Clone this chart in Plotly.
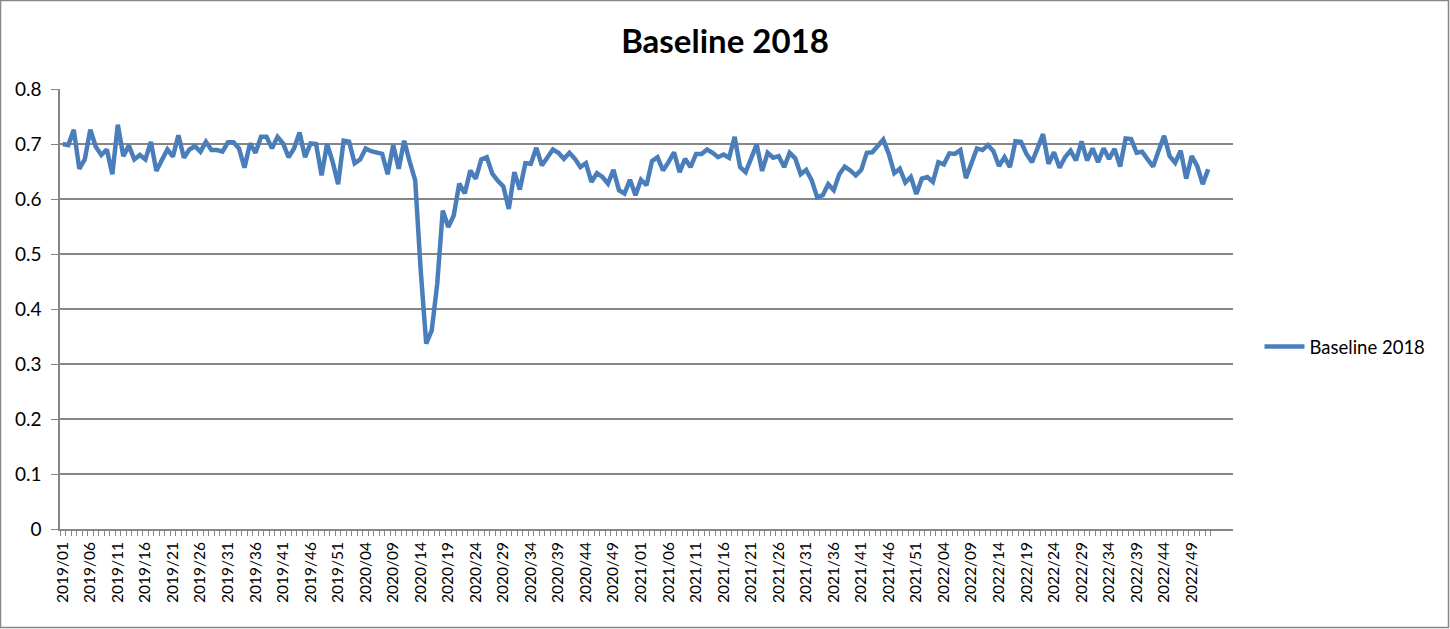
import plotly.graph_objects as go

# ---- data ----
YEARS = [2019, 2020, 2021, 2022]
WEEKS_PER_YEAR = [52, 53, 52, 52]
WEEKS = [f"{y}/{w:02d}" for y, n in zip(YEARS, WEEKS_PER_YEAR) for w in range(1, n + 1)]

BASELINE_2018 = [
    0.700, 0.698, 0.726, 0.655, 0.672, 0.726, 0.695, 0.680, 0.690, 0.645,
    0.735, 0.678, 0.697, 0.672, 0.680, 0.672, 0.704, 0.651, 0.671, 0.690,
    0.677, 0.716, 0.675, 0.690, 0.696, 0.686, 0.704, 0.689, 0.689, 0.686,
    0.703, 0.703, 0.692, 0.657, 0.701, 0.684, 0.713, 0.713, 0.692, 0.713,
    0.701, 0.676, 0.692, 0.721, 0.676, 0.701, 0.700, 0.643, 0.700, 0.668,
    0.627, 0.706, 0.704, 0.665, 0.672, 0.692, 0.687, 0.684, 0.682, 0.645,
    0.698, 0.655, 0.706, 0.668, 0.634, 0.470, 0.337, 0.361, 0.446, 0.579,
    0.549, 0.570, 0.628, 0.610, 0.652, 0.637, 0.672, 0.676, 0.646, 0.633,
    0.623, 0.582, 0.649, 0.617, 0.665, 0.664, 0.693, 0.661, 0.676, 0.690,
    0.684, 0.673, 0.684, 0.673, 0.658, 0.665, 0.631, 0.647, 0.640, 0.628,
    0.653, 0.616, 0.610, 0.635, 0.607, 0.635, 0.625, 0.669, 0.676, 0.652,
    0.667, 0.685, 0.649, 0.673, 0.658, 0.682, 0.682, 0.690, 0.684, 0.676,
    0.681, 0.675, 0.713, 0.658, 0.649, 0.672, 0.699, 0.651, 0.684, 0.675,
    0.678, 0.658, 0.684, 0.674, 0.645, 0.653, 0.634, 0.603, 0.607, 0.627,
    0.616, 0.645, 0.659, 0.652, 0.643, 0.653, 0.684, 0.685, 0.696, 0.708,
    0.682, 0.647, 0.655, 0.630, 0.640, 0.609, 0.637, 0.640, 0.631, 0.667,
    0.663, 0.683, 0.682, 0.689, 0.638, 0.665, 0.692, 0.689, 0.698, 0.687,
    0.660, 0.676, 0.658, 0.705, 0.704, 0.682, 0.667, 0.692, 0.718, 0.664,
    0.685, 0.657, 0.676, 0.688, 0.670, 0.705, 0.670, 0.692, 0.667, 0.692,
    0.673, 0.691, 0.659, 0.710, 0.709, 0.684, 0.686, 0.672, 0.659, 0.688,
    0.715, 0.678, 0.666, 0.688, 0.637, 0.678, 0.660, 0.627, 0.654,
]

TICK_LABELS = [w for i, w in enumerate(WEEKS) if i % 5 == 0]
Y_TICKS = [0, 0.1, 0.2, 0.3, 0.4, 0.5, 0.6, 0.7, 0.8]
TOTAL_SLOTS = 213  # category slots on the axis (data + empty trailing slots)

FONT = "Lato"
GRID = "#868686"
LINE_COLOR = "#4A7EBB"

fig = go.Figure()
fig.add_trace(go.Scatter(
    x=WEEKS, y=BASELINE_2018[:len(WEEKS)], mode="lines", name="Baseline 2018",
    line=dict(color=LINE_COLOR, width=4.5),
))

fig.update_layout(
    width=1450, height=629,
    margin=dict(l=60, r=217, t=89, b=100),
    paper_bgcolor="white", plot_bgcolor="white",
    font=dict(family=FONT, size=15, color="black"),
    title=dict(text="<b>Baseline 2018</b>", x=0.5, xref="container", xanchor="center",
               y=1 - 41 / 629, yanchor="middle", yref="container",
               font=dict(family=FONT, size=33, color="black")),
    showlegend=True,
    legend=dict(x=(1259.5 - 60) / 1173, y=(529 - 347) / 440, xanchor="left", yanchor="middle",
                font=dict(family=FONT, size=18.5, color="black"),
                bgcolor="rgba(0,0,0,0)", itemwidth=40),
    xaxis=dict(
        type="category",
        range=[-0.5, TOTAL_SLOTS - 0.5],
        tickmode="array",
        tickvals=WEEKS,
        ticktext=[w if w in TICK_LABELS else "" for w in WEEKS],
        tickson="boundaries",
        ticks="outside", ticklen=5, tickcolor=GRID, tickwidth=1,
        tickangle=-90,
        ticklabelstandoff=5,
        tickfont=dict(family=FONT, size=15.5, color="black"),
        showgrid=False, zeroline=False,
        showline=True, linecolor=GRID, linewidth=1.5,
    ),
    yaxis=dict(
        range=[0, 0.8],
        tickmode="array", tickvals=Y_TICKS,
        ticktext=[f"{v:g}" for v in Y_TICKS],
        ticks="outside", ticklen=7, tickcolor=GRID, tickwidth=1,
        ticklabelstandoff=6,
        tickfont=dict(family=FONT, size=19, color="black"),
        showgrid=True, gridcolor=GRID, gridwidth=1.5,
        zeroline=False,
        showline=True, linecolor=GRID, linewidth=1.5,
    ),
)

# outer chart border
fig.add_shape(type="rect", xref="paper", yref="paper",
              x0=(0.5 - 60) / 1173, x1=(1448.5 - 60) / 1173,
              y0=(529 - 627.5) / 440, y1=(529 - 0.5) / 440,
              line=dict(color=GRID, width=1.5), fillcolor="rgba(0,0,0,0)", layer="below")

fig.write_html("out.html", config={"displayModeBar": False},
               post_script="document.body.style.margin='0';")
